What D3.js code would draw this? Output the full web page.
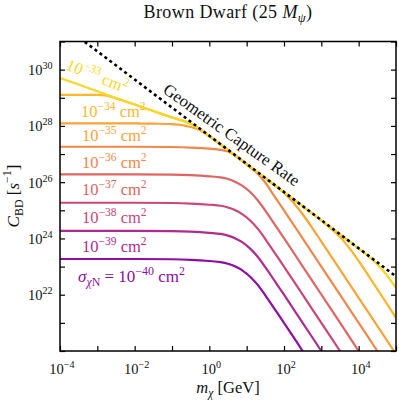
<!DOCTYPE html>
<html><head><meta charset="utf-8">
<script src="https://cdn.jsdelivr.net/npm/d3@7"></script>
<style>body{margin:0;background:#fff}svg{display:block}text{font-family:"Liberation Serif","Times New Roman",serif}</style>
</head><body><svg id="c" width="399" height="403"></svg>
<script>
// ---------- data ----------
const xTickExps = [-4,-3,-2,-1,0,1,2,3,4,5];
const xLabelExps = [-4,-2,0,2,4];
const yTickExps = [20,21,22,23,24,25,26,27,28,29,30,31];
const yLabelExps = [22,24,26,28,30];
const sigmaExps = [-40,-39,-38,-37,-36,-35,-34,-33];

const curve40 = [[1e-4,1.86e23],[1e-3,1.86e23],[1e-2,1.86e23],[0.1,1.82e23],[0.316,1.74e23],[1,1.58e23],[2,1.45e23],[3.16,1.26e23],[5,1.0e23],[7.94,7.08e22],[12.6,4.27e22],[20,2.19e22],[31.6,9.55e21],[56.2,3.09e21],[100,1.0e21],[316,1.0e20],[1000,1.0e19]];
const curve39 = [[1e-4,1.86e24],[1e-3,1.86e24],[1e-2,1.86e24],[0.1,1.82e24],[0.316,1.74e24],[1,1.58e24],[2,1.45e24],[3.16,1.26e24],[5,1.0e24],[7.94,7.08e23],[12.6,4.27e23],[20,2.19e23],[31.6,9.55e22],[56.2,3.09e22],[100,1.0e22],[316,1.0e21],[1000,1.0e20],[3160,1.0e19]];
const curve38 = [[1e-4,1.86e25],[1e-3,1.86e25],[1e-2,1.86e25],[0.1,1.82e25],[0.316,1.74e25],[1,1.58e25],[2,1.45e25],[3.16,1.26e25],[5,1.0e25],[7.94,7.08e24],[12.6,4.27e24],[20,2.19e24],[31.6,9.55e23],[56.2,3.09e23],[100,1.0e23],[316,1.0e22],[1000,1.0e21],[3160,1.0e20],[1e4,1.0e19]];
const curve37 = [[1e-4,1.91e26],[1e-3,1.91e26],[1e-2,1.91e26],[0.1,1.86e26],[0.316,1.78e26],[1,1.62e26],[2,1.48e26],[3.16,1.29e26],[5,1.02e26],[7.94,7.24e25],[12.6,4.37e25],[20,2.24e25],[31.6,9.77e24],[56.2,3.16e24],[100,1.02e24],[316,1.02e23],[1000,1.02e22],[3160,1.02e21],[1e4,1.0e20],[3.16e4,1.0e19]];
const curve36 = [[1e-4,1.82e27],[1e-3,1.82e27],[1e-2,1.82e27],[0.1,1.78e27],[0.316,1.70e27],[1,1.55e27],[2,1.41e27],[3.16,1.23e27],[5,8.71e26],[7.94,5.37e26],[12.6,3.31e26],[20,1.95e26],[31.6,9.55e25],[56.2,3.09e25],[100,1.0e25],[316,1.0e24],[1000,1.0e23],[3160,1.0e22],[1e4,1.0e21],[3.16e4,1.0e20],[1e5,1.0e19]];
const curve35 = [[1e-4,1.23e28],[1e-3,1.23e28],[1e-2,1.23e28],[0.0316,1.20e28],[0.1,1.15e28],[0.2,1.05e28],[0.316,9.12e27],[0.5,7.59e27],[0.794,5.25e27],[1,4.27e27],[3.16,1.38e27],[10,4.37e26],[31.6,1.38e26],[100,4.17e25],[178,1.91e25],[316,7.24e24],[562,2.45e24],[1000,7.76e23],[3160,7.76e22],[1e4,7.76e21],[3.16e4,7.76e20],[1e5,7.76e19]];
const curve34 = [[1e-4,1.26e29],[1e-3,1.26e29],[1.78e-3,1.20e29],[3.16e-3,9.55e28],[1e-2,5.75e28],[3.16e-2,3.39e28],[0.1,2.0e28],[0.2,1.51e28],[0.316,1.20e28],[0.5,8.51e27],[1,4.37e27],[10,4.37e26],[100,4.37e25],[1000,4.27e24],[1780,2.29e24],[3160,1.12e24],[5620,4.57e23],[1e4,1.58e23],[3.16e4,1.58e22],[1e5,1.51e21]];
const curve33 = [[1e-4,5.01e29],[3.16e-4,2.95e29],[1e-3,1.70e29],[3.16e-3,9.77e28],[1e-2,5.75e28],[3.16e-2,3.39e28],[0.1,2.0e28],[0.2,1.51e28],[0.316,1.20e28],[0.5,8.51e27],[1,4.37e27],[10,4.37e26],[100,4.37e25],[1000,4.37e24],[1e4,4.37e23],[1.78e4,2.40e23],[3.16e4,1.20e23],[5.62e4,5.01e22],[1e5,1.74e22]];
const geometric = [[1e-4,4.47e31],[1e-3,4.47e30],[1e-2,4.47e29],[0.1,4.47e28],[1,4.47e27],[10,4.47e26],[100,4.47e25],[1000,4.47e24],[1e4,4.47e23],[1e5,4.47e22]];

const curves = [curve40, curve39, curve38, curve37, curve36, curve35, curve34, curve33];
const plasmaT = [0.30, 0.40, 0.50, 0.60, 0.71, 0.79, 0.84, 0.92];

// ---------- layout ----------
const L = 60, R = 396, T = 41.5, B = 351;
const svg = d3.select('#c');
const x = d3.scaleLog().domain([1e-4, 1e5]).range([L, R]);
const y = d3.scaleLog().domain([1e20, 1e31]).range([B, T]);
const colors = plasmaT.map(t => d3.interpolatePlasma(t));

function rich(sel, parts, size) {
  let cur = 0;
  parts.forEach(p => {
    const t = p[0], o = p[1] || {};
    const shift = o.sup ? -0.42 * size : o.sub ? 0.26 * size : 0;
    const fs = (o.sup || o.sub) ? size * 0.7 : size;
    sel.append('tspan').attr('dy', shift - cur).attr('font-size', fs)
      .attr('font-style', o.i ? 'italic' : 'normal').text(t);
    cur = shift;
  });
  return sel;
}
const M = '\u2212';

svg.append('defs').append('clipPath').attr('id', 'clip')
  .append('rect').attr('x', L).attr('y', T).attr('width', R - L).attr('height', B - T);

const line = d3.line().x(d => x(d[0])).y(d => y(d[1])).curve(d3.curveMonotoneX);
const g = svg.append('g').attr('clip-path', 'url(#clip)');
curves.forEach((c, i) => {
  g.append('path').datum(c).attr('d', line).attr('fill', 'none')
    .attr('stroke', colors[i]).attr('stroke-width', 2.2).attr('stroke-linejoin', 'round');
});
g.append('path').datum(geometric).attr('d', d3.line().x(d => x(d[0])).y(d => y(d[1])))
  .attr('fill', 'none').attr('stroke', '#000').attr('stroke-width', 2.6).attr('stroke-dasharray', '3,3.2');

// ticks
const tv = xTickExps.map(e => Math.pow(10, e));
const yv = yTickExps.map(e => Math.pow(10, e));
function tickAxis(ax, tr) {
  const a = svg.append('g').attr('transform', tr).call(ax);
  a.select('.domain').remove();
  a.selectAll('line').attr('stroke', '#000').attr('stroke-width', 1.2);
}
tickAxis(d3.axisBottom(x).tickValues(tv).tickSize(-5).tickFormat(''), `translate(0,${B})`);
tickAxis(d3.axisTop(x).tickValues(tv).tickSize(-5).tickFormat(''), `translate(0,${T})`);
tickAxis(d3.axisLeft(y).tickValues(yv).tickSize(-5).tickFormat(''), `translate(${L},0)`);
tickAxis(d3.axisRight(y).tickValues(yv).tickSize(-5).tickFormat(''), `translate(${R},0)`);
svg.append('rect').attr('x', L).attr('y', T).attr('width', R - L).attr('height', B - T)
  .attr('fill', 'none').attr('stroke', '#000').attr('stroke-width', 1.5);

// tick labels
xLabelExps.forEach(e => {
  const t = svg.append('text').attr('x', x(Math.pow(10, e)) + 2).attr('y', 374)
    .attr('text-anchor', 'middle').attr('fill', '#111');
  rich(t, [['10'], [(e < 0 ? M + (-e) : '' + e), {sup: 1}]], 14.5);
});
yLabelExps.forEach(e => {
  const t = svg.append('text').attr('x', 52.5).attr('y', y(Math.pow(10, e)) + 5.5)
    .attr('text-anchor', 'end').attr('fill', '#111');
  rich(t, [['10'], ['' + e, {sup: 1}]], 14.5);
});

// title & axis labels
rich(svg.append('text').attr('x', 228).attr('y', 17.5).attr('text-anchor', 'middle').attr('fill', '#111')
  .attr('letter-spacing', 0.4),
  [['Brown Dwarf (25 '], ['M', {i: 1}], ['\u03c8', {sub: 1, i: 1}], [')']], 18);
rich(svg.append('text').attr('x', 228).attr('y', 393).attr('text-anchor', 'middle').attr('fill', '#111'),
  [['m', {i: 1}], ['\u03c7', {sub: 1, i: 1}], [' [GeV]']], 16.5);
rich(svg.append('text').attr('transform', 'translate(18.5,196) rotate(-90)').attr('text-anchor', 'middle').attr('fill', '#111'),
  [['C', {i: 1}], ['BD', {sub: 1}], [' ['], ['s', {i: 1}], [M + '1', {sup: 1}], [']']], 17);

// series labels
const labelPos = [[78, 281.7], [82, 251.7], [82, 223.3], [82, 195], [82, 168.3], [82, 140.7], [81, 117]];
sigmaExps.forEach((e, i) => {
  if (i === 7) {
    const t = svg.append('text').attr('transform', 'translate(65,69) rotate(22)').attr('fill', colors[i]);
    rich(t, [['10'], [M + (-e), {sup: 1}], [' cm'], ['2', {sup: 1}]], 16.5);
    return;
  }
  const t = svg.append('text').attr('x', labelPos[i][0]).attr('y', labelPos[i][1]).attr('fill', colors[i]);
  const parts = i === 0
    ? [['\u03c3', {i: 1}], ['\u03c7', {sub: 1, i: 1}], ['N', {sub: 1}], [' = 10'], [M + (-e), {sup: 1}], [' cm'], ['2', {sup: 1}]]
    : [['10'], [M + (-e), {sup: 1}], [' cm'], ['2', {sup: 1}]];
  rich(t, parts, i === 0 ? 17 : 16.5);
});
svg.append('text').attr('transform', 'translate(162,92) rotate(35.5)').attr('fill', '#111')
  .attr('font-size', 16.8).text('Geometric Capture Rate');
</script></body></html>
